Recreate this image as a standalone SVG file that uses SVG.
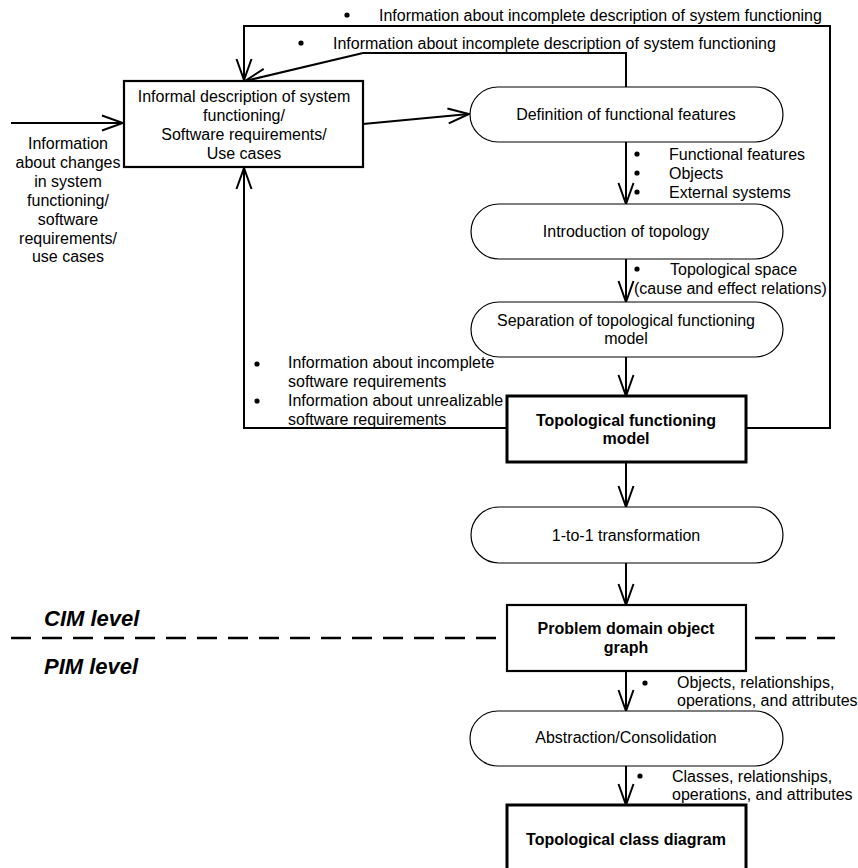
<svg xmlns="http://www.w3.org/2000/svg" width="858" height="868" viewBox="0 0 858 868">
<style>
text{font-family:"Liberation Sans",Arial,sans-serif;font-size:16px;fill:#000}
.c{text-anchor:middle}
.b{font-weight:bold}
.lvl{font-size:22px;font-weight:bold;font-style:italic}
.box{fill:#fff;stroke:#000;stroke-width:2.2}
.tbox{fill:#fff;stroke:#000;stroke-width:3}
.st{fill:#fff;stroke:#000;stroke-width:1.2}
.ln{fill:none;stroke:#000;stroke-width:2}
.dot{fill:#000}
</style>
<defs>
<marker id="arr" markerUnits="userSpaceOnUse" viewBox="0 0 24 18" markerWidth="24" markerHeight="18" refX="22" refY="9" orient="auto">
<path d="M1,1.5 L22,9 L1,16.5" fill="none" stroke="#000" stroke-width="2"/>
</marker>
</defs>
<rect width="858" height="868" fill="#fff"/>
<line x1="11" y1="638" x2="835" y2="638" stroke="#000" stroke-width="2.5" stroke-dasharray="20 11"/>
<text class="lvl" x="44" y="626">CIM level</text>
<text class="lvl" x="44" y="674">PIM level</text>
<g id="connectors">
<polyline class="ln" points="746,428 830,428 830,26 244,26 244,80" marker-end="url(#arr)"/>
<polyline class="ln" points="626,87 626,53 363,53 245,81" marker-end="url(#arr)"/>
<line class="ln" x1="11" y1="123" x2="123" y2="123" marker-end="url(#arr)"/>
<polyline class="ln" points="507,428 244,428 244,168" marker-end="url(#arr)"/>
<line class="ln" x1="363" y1="124" x2="469" y2="114" marker-end="url(#arr)"/>
<line class="ln" x1="626" y1="142" x2="626" y2="204" marker-end="url(#arr)"/>
<line class="ln" x1="626" y1="259" x2="626" y2="302" marker-end="url(#arr)"/>
<line class="ln" x1="626" y1="357" x2="626" y2="396" marker-end="url(#arr)"/>
<line class="ln" x1="626" y1="462" x2="626" y2="507" marker-end="url(#arr)"/>
<line class="ln" x1="626" y1="563" x2="626" y2="605" marker-end="url(#arr)"/>
<line class="ln" x1="626" y1="671" x2="626" y2="711" marker-end="url(#arr)"/>
<line class="ln" x1="626" y1="766" x2="626" y2="805" marker-end="url(#arr)"/>
</g>
<g id="labels">
<circle class="dot" cx="347" cy="15" r="2.6"/>
<text x="379" y="21">Information about incomplete description of system functioning</text>
<circle class="dot" cx="301" cy="43" r="2.6"/>
<text x="333" y="49">Information about incomplete description of system functioning</text>
<text class="c" x="68" y="149">Information</text>
<text class="c" x="68" y="168">about changes</text>
<text class="c" x="68" y="187">in system</text>
<text class="c" x="68" y="206">functioning/</text>
<text class="c" x="68" y="225">software</text>
<text class="c" x="68" y="244">requirements/</text>
<text class="c" x="68" y="262">use cases</text>
<circle class="dot" cx="637" cy="154" r="2.6"/>
<circle class="dot" cx="637" cy="173" r="2.6"/>
<circle class="dot" cx="637" cy="192" r="2.6"/>
<text x="669" y="160">Functional features</text>
<text x="669" y="179">Objects</text>
<text x="669" y="198">External systems</text>
<circle class="dot" cx="637" cy="269" r="2.6"/>
<text x="670" y="275">Topological space</text>
<text x="634" y="294">(cause and effect relations)</text>
<circle class="dot" cx="257" cy="364" r="2.6"/>
<circle class="dot" cx="257" cy="401" r="2.6"/>
<text x="288" y="368">Information about incomplete</text>
<text x="288" y="387">software requirements</text>
<text x="288" y="406">Information about unrealizable</text>
<text x="288" y="425">software requirements</text>
<circle class="dot" cx="645" cy="683" r="2.6"/>
<text x="677" y="688">Objects, relationships,</text>
<text x="677" y="706">operations, and attributes</text>
<circle class="dot" cx="640" cy="776" r="2.6"/>
<text x="672" y="782">Classes, relationships,</text>
<text x="672" y="800">operations, and attributes</text>
</g>
<g id="informal">
<rect class="box" x="124" y="81" width="239" height="86"/>
<text class="c" x="244" y="102">Informal description of system</text>
<text class="c" x="244" y="121">functioning/</text>
<text class="c" x="244" y="140">Software requirements/</text>
<text class="c" x="244" y="159">Use cases</text>
</g>
<g id="definition">
<rect class="st" x="470" y="87" width="313" height="55" rx="28" ry="28"/>
<text class="c" x="626" y="120">Definition of functional features</text>
</g>
<g id="introduction">
<rect class="st" x="471" y="204" width="312" height="55" rx="28" ry="28"/>
<text class="c" x="626" y="237">Introduction of topology</text>
</g>
<g id="separation">
<rect class="st" x="471" y="302" width="312" height="55" rx="28" ry="28"/>
<text class="c" x="626" y="326">Separation of topological functioning</text>
<text class="c" x="626" y="344">model</text>
</g>
<g id="tfm">
<rect class="tbox" x="507" y="396" width="239" height="66"/>
<text class="c b" x="626" y="426">Topological functioning</text>
<text class="c b" x="626" y="444">model</text>
</g>
<g id="transformation">
<rect class="st" x="471" y="507" width="312" height="56" rx="28" ry="28"/>
<text class="c" x="626" y="541">1-to-1 transformation</text>
</g>
<g id="pdog">
<rect class="box" x="507" y="605" width="239" height="66"/>
<text class="c b" x="626" y="634">Problem domain object</text>
<text class="c b" x="626" y="653">graph</text>
</g>
<g id="abstraction">
<rect class="st" x="470" y="711" width="313" height="55" rx="28" ry="28"/>
<text class="c" x="626" y="743">Abstraction/Consolidation</text>
</g>
<g id="tcd">
<rect class="tbox" x="507" y="805" width="239" height="70"/>
<text class="c b" x="626" y="845">Topological class diagram</text>
</g>
</svg>
